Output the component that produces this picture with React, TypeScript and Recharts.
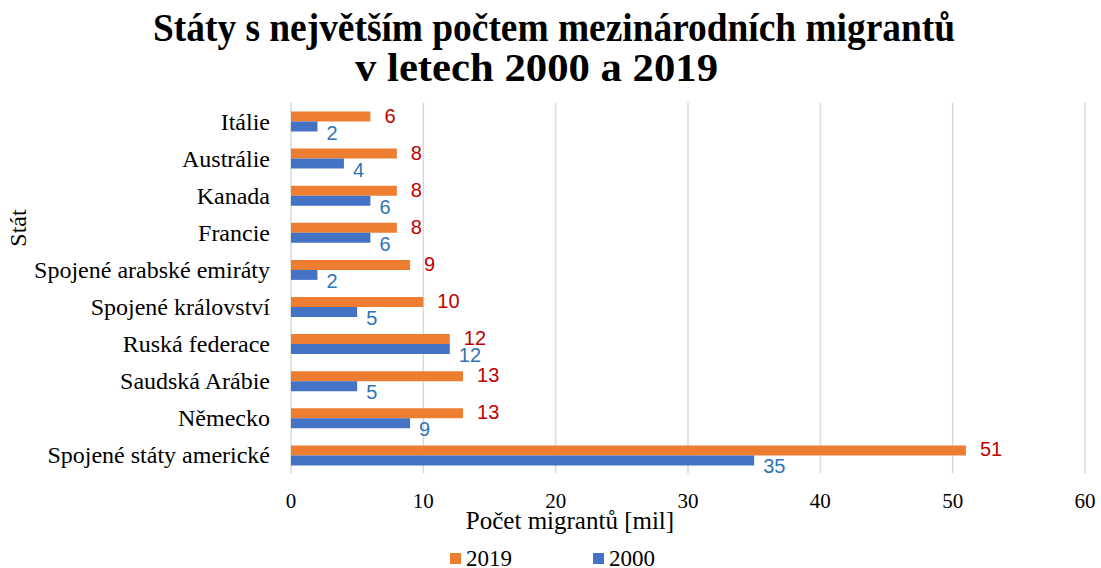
import { BarChart, Bar, XAxis, YAxis, CartesianGrid, LabelList } from "recharts";

const countries = [
  "Itálie",
  "Austrálie",
  "Kanada",
  "Francie",
  "Spojené arabské emiráty",
  "Spojené království",
  "Ruská federace",
  "Saudská Arábie",
  "Německo",
  "Spojené státy americké",
];
const values2019 = [6, 8, 8, 8, 9, 10, 12, 13, 13, 51];
const values2000 = [2, 4, 6, 6, 2, 5, 12, 5, 9, 35];
const xTicks = [0, 10, 20, 30, 40, 50, 60];

const ORANGE = "#ED7D31";
const BLUE = "#4472C4";
const SERIF = "'Liberation Serif', 'Times New Roman', serif";
const SANS = "'Liberation Sans', Arial, sans-serif";

const data = countries.map((name, i) => ({
  name,
  y2019: values2019[i],
  y2000: values2000[i],
}));

const makeLabel = (color: string, dx: number, dy: number) => (props: any) => {
  const { x, y, width, height, value } = props;
  return (
    <text
      x={x + width + dx}
      y={y + height / 2 + dy}
      fill={color}
      fontFamily={SANS}
      fontSize={20}
      dominantBaseline="central"
    >
      {value}
    </text>
  );
};

export default function App() {
  return (
    <div style={{ position: "absolute", left: 0, top: 0, width: 1101, height: 568, background: "#fff" }}>
      <svg width={1101} height={95} style={{ position: "absolute", left: 0, top: 0 }}>
        <text
          x={153}
          y={41}
          fontFamily={SERIF}
          fontWeight="bold"
          fontSize={41}
          textLength={802}
          lengthAdjust="spacingAndGlyphs"
        >
          Státy s největším počtem mezinárodních migrantů
        </text>
        <text
          x={355}
          y={81}
          fontFamily={SERIF}
          fontWeight="bold"
          fontSize={41}
          textLength={363}
          lengthAdjust="spacingAndGlyphs"
        >
          v letech 2000 a 2019
        </text>
      </svg>

      <BarChart
        layout="vertical"
        width={1101}
        height={568}
        data={data}
        margin={{ top: 102.5, right: 16, bottom: 64.5, left: 0 }}
        barSize={10}
        barGap={0}
      >
        <CartesianGrid horizontal={false} stroke="#D9D9D9" strokeWidth={1.5} />
        <XAxis
          type="number"
          domain={[0, 60]}
          ticks={xTicks}
          axisLine={false}
          tickLine={false}
          tickSize={0}
          tickMargin={20}
          height={30}
          tick={{ fill: "#000", fontFamily: SERIF, fontSize: 21 }}
        />
        <YAxis
          type="category"
          dataKey="name"
          width={291}
          axisLine={false}
          tickLine={false}
          tickSize={0}
          tickMargin={21}
          interval={0}
          tick={{ fill: "#000", fontFamily: SERIF, fontSize: 24 }}
        />
        <Bar dataKey="y2019" fill={ORANGE} isAnimationActive={false}>
          <LabelList dataKey="y2019" content={makeLabel("#C00000", 14, -1)} />
        </Bar>
        <Bar dataKey="y2000" fill={BLUE} isAnimationActive={false}>
          <LabelList dataKey="y2000" content={makeLabel("#2E75B6", 9, 6)} />
        </Bar>
      </BarChart>

      <svg width={1101} height={568} style={{ position: "absolute", left: 0, top: 0, pointerEvents: "none" }}>
        <text
          x={18}
          y={228}
          transform="rotate(-90 18 228)"
          textAnchor="middle"
          dominantBaseline="central"
          fontFamily={SERIF}
          fontSize={24}
        >
          Stát
        </text>
        <text x={570} y={520} textAnchor="middle" dominantBaseline="central" fontFamily={SERIF} fontSize={25}>
          Počet migrantů [mil]
        </text>
        <rect x={450} y={553} width={11} height={11} fill={ORANGE} />
        <text x={466} y={558} dominantBaseline="central" fontFamily={SERIF} fontSize={23}>
          2019
        </text>
        <rect x={593} y={553} width={11} height={11} fill={BLUE} />
        <text x={609} y={558} dominantBaseline="central" fontFamily={SERIF} fontSize={23}>
          2000
        </text>
      </svg>
    </div>
  );
}
